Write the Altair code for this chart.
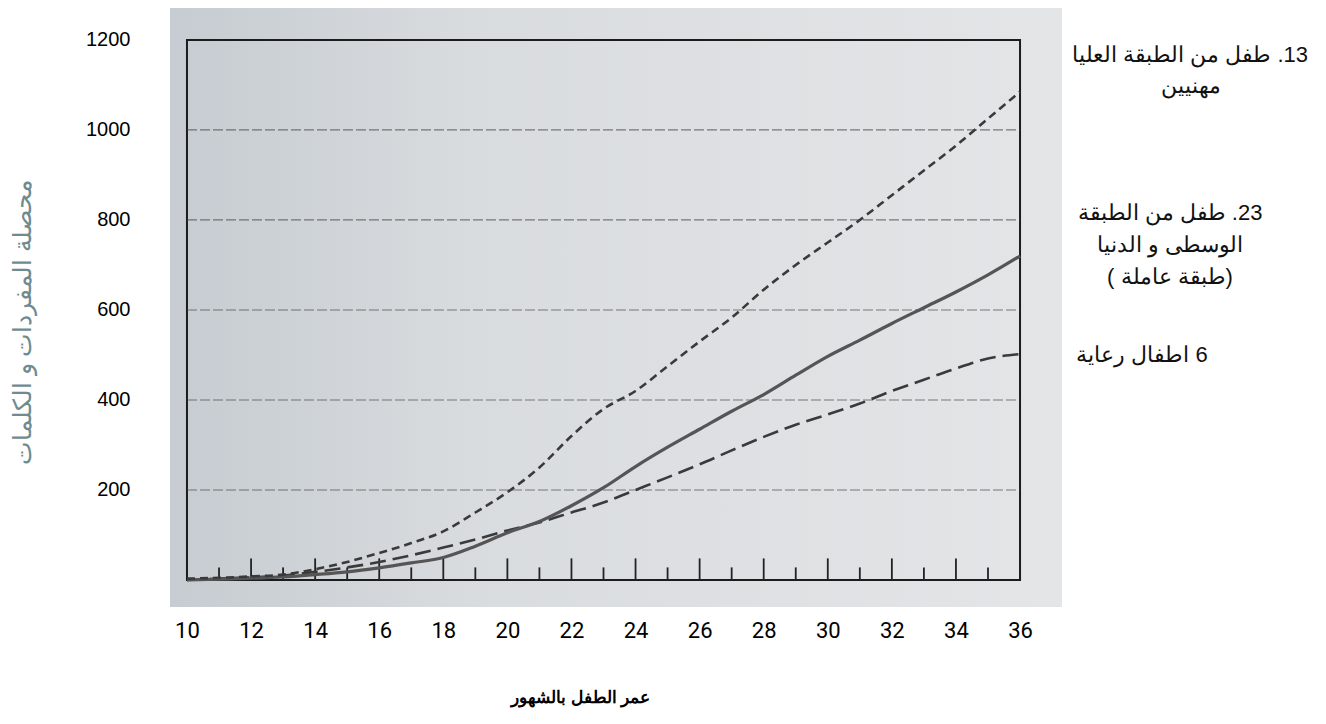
import altair as alt
import pandas as pd
import numpy as np

# ---- data ----
months = list(range(10, 37))
upper_class = [3, 5, 8, 12, 24, 40, 60, 82, 108, 150, 195, 250, 320, 380, 420, 475,
               530, 583, 645, 700, 750, 800, 855, 910, 965, 1025, 1085]
middle_lower = [0, 2, 4, 7, 12, 18, 27, 38, 50, 75, 105, 130, 165, 205, 252, 295,
                335, 375, 412, 455, 497, 533, 570, 605, 640, 678, 720]
care_children = [0, 3, 6, 10, 18, 28, 40, 55, 72, 90, 110, 128, 150, 172, 200, 228,
                 257, 288, 318, 345, 368, 392, 420, 445, 470, 492, 502]

y_ticks = [200, 400, 600, 800, 1000, 1200]
grid_values = [200, 400, 600, 800, 1000]
x_ticks = list(range(10, 37, 2))
y_max = 1200

x_title = "عمر الطفل بالشهور"
y_title = "محصلة المفردات و الكلمات"

RLE, PDF = "\u202B", "\u202C"
legend1 = ["13. طفل من الطبقة العليا", "مهنيين"]
legend2 = ["23. طفل من الطبقة", "الوسطى و الدنيا", "(طبقة عاملة )"]
legend3 = ["6 اطفال رعاية"]

# ---- layout ----
W, H = 892, 599
X_DOM = [9.47, 37.31]
Y_DOM = [-60, 1271]

xs = alt.Scale(domain=X_DOM, nice=False, zero=False)
ys = alt.Scale(domain=Y_DOM, nice=False, zero=False)

x_axis = alt.Axis(
    values=x_ticks, grid=False, domain=False, ticks=False, labelFlush=False,
    labelPadding=13, labelFont="Roboto", labelFontSize=22, labelFontWeight="normal",
    labelColor="#000",
    title=x_title, titleFont="Liberation Sans", titleFontWeight="bold",
    titleFontSize=17, titleColor="#000", titleX=410, titleY=90,
    titleAlign="center", titleBaseline="middle")
y_axis = alt.Axis(
    values=y_ticks, format="d", grid=False, domain=False, ticks=False, labelPadding=40,
    labelFont="Liberation Sans", labelFontSize=20, labelColor="#000",
    title=y_title, titleFont="Liberation Sans", titleFontSize=25,
    titleFontWeight="normal", titleColor="#6f8b90", titleX=-148, titleY=314,
    titleAngle=270, titleAlign="center", titleBaseline="middle")


def X(field):
    return alt.X(field, scale=xs, axis=x_axis)


def Y(field):
    return alt.Y(field, scale=ys, axis=y_axis)


# scanned-paper background, spanning the whole scale domain
bg_df = pd.DataFrame({"x0": [X_DOM[0]], "x1": [X_DOM[1]], "y0": [Y_DOM[0]], "y1": [Y_DOM[1]]})
bg = alt.Chart(bg_df).mark_rect(
    color=alt.Gradient(
        gradient="linear",
        stops=[alt.GradientStop(color="#c6ccd1", offset=0),
               alt.GradientStop(color="#d9dcdf", offset=0.35),
               alt.GradientStop(color="#e4e5e7", offset=1)],
        x1=0, x2=1, y1=0.5, y2=0.5)
).encode(x=X("x0:Q"), x2="x1:Q", y=Y("y0:Q"), y2="y1:Q")

# frame
box_df = pd.DataFrame({"x0": [months[0]], "x1": [months[-1]], "y0": [0], "y1": [y_max]})
box = alt.Chart(box_df).mark_rect(fillOpacity=0, stroke="#1c1c1c", strokeWidth=2).encode(
    x=X("x0:Q"), x2="x1:Q", y=Y("y0:Q"), y2="y1:Q")

# grid lines inside the frame
grid_df = pd.DataFrame({"y": grid_values, "x0": months[0], "x1": months[-1]})
grid = alt.Chart(grid_df).mark_rule(color="#4a4a4a", strokeWidth=1.2, strokeDash=[10, 3],
                                    opacity=0.7).encode(
    x=X("x0:Q"), x2="x1:Q", y=Y("y:Q"))

# month tick marks along the bottom
tm = np.array(months[1:-1])
ticks_df = pd.DataFrame({"m": tm, "y0": 0, "len": np.where(tm % 2 == 0, 48, 28)})
ticks = alt.Chart(ticks_df).mark_rule(color="#222", strokeWidth=1.8).encode(
    x=X("m:Q"), y=Y("y0:Q"), y2="len:Q")


def series_line(values, dash, width, color):
    d = pd.DataFrame({"month": months, "value": values})
    kw = dict(color=color, strokeWidth=width, interpolate="monotone")
    if dash:
        kw["strokeDash"] = dash
    return alt.Chart(d).mark_line(**kw).encode(x=X("month:Q"), y=Y("value:Q"))


l_upper = series_line(upper_class, [8, 5], 2.6, "#3a3a3a")
l_mid = series_line(middle_lower, None, 3.2, "#555555")
l_care = series_line(care_children, [16, 7], 2.6, "#3a3a3a")


def label(text, x, y):
    return alt.Chart(pd.DataFrame({"t": [RLE + text + PDF]})).mark_text(
        font="Liberation Sans", fontSize=22, align="center", baseline="middle",
        color="#111").encode(x=alt.value(x), y=alt.value(y), text="t:N")


labels = [
    label(legend1[0], 1020, 47), label(legend1[1], 1021, 78),
    label(legend2[0], 1000, 205), label(legend2[1], 1000, 237), label(legend2[2], 1000, 269),
    label(legend3[0], 972, 347),
]

chart = alt.layer(bg, box, grid, ticks, l_care, l_mid, l_upper, *labels).properties(
    width=W, height=H,
    autosize=alt.AutoSizeParams(type="none"),
    padding={"left": 162, "top": 0, "right": 256, "bottom": 109},
).configure_view(stroke=None)

chart.save("out.html", embed_options={"renderer": "svg", "actions": False})
